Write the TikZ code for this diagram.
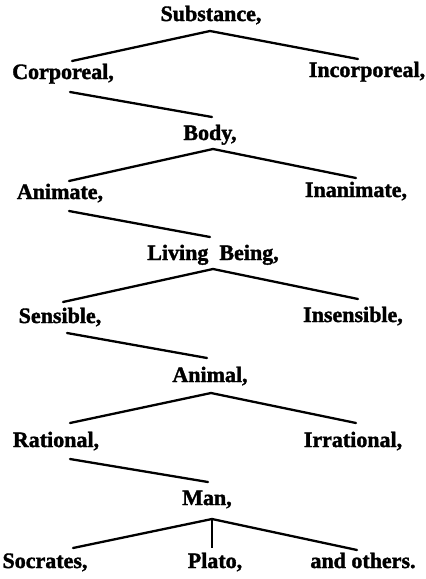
\documentclass[tikz,border=0pt]{standalone}
\usepackage{fontspec}
\setmainfont{Liberation Serif}[BoldFeatures={FakeBold=1.6}]
\begin{document}
\begin{tikzpicture}[x=1pt,y=-1pt,
  term/.style={anchor=base,inner sep=0pt,font=\fontsize{22}{24}\selectfont\bfseries},
  branch/.style={line width=2.3pt,line cap=round}]
\useasboundingbox (0,0) rectangle (426,579);
% terms
\node[term] (sub) at (211,21) {Substance,};
\node[term] (corp) at (63,79) {Corporeal,};
\node[term] (incorp) at (367,77) {Incorporeal,};
\node[term] (body) at (210,140) {Body,};
\node[term] (anim) at (60,199) {Animate,};
\node[term] (inanim) at (356,197) {Inanimate,};
\node[term] (living) at (213,260) {Living\ \ Being,};
\node[term] (sens) at (60,323) {Sensible,};
\node[term] (insens) at (353,322) {Insensible,};
\node[term] (animal) at (210,382) {Animal,};
\node[term] (rat) at (56,447) {Rational,};
\node[term] (irrat) at (353,447) {Irrational,};
\node[term] (man) at (207,505) {Man,};
\node[term] (socr) at (45,568) {Socrates,};
\node[term] (plato) at (215,568) {Plato,};
\node[term] (others) at (363,568) {and others.};
% connector end points
\coordinate (a1) at (210,31);  \coordinate (l1) at (72,61);  \coordinate (r1) at (358,59);
\coordinate (d1) at (70,92);   \coordinate (e1) at (212,117);
\coordinate (a2) at (213,149); \coordinate (l2) at (69,181); \coordinate (r2) at (356,178);
\coordinate (d2) at (69,211);  \coordinate (e2) at (210,237);
\coordinate (a3) at (213,269); \coordinate (l3) at (63,302); \coordinate (r3) at (358,299);
\coordinate (d3) at (67,333);  \coordinate (e3) at (207,358);
\coordinate (a4) at (211,393); \coordinate (l4) at (70,423); \coordinate (r4) at (356,423);
\coordinate (d4) at (70,459);  \coordinate (e4) at (208,482);
\coordinate (a5) at (212,519); \coordinate (l5) at (73,548); \coordinate (r5) at (357,550);
\coordinate (m5) at (212,548);
% connectors
\draw[branch] (l1) -- (a1) -- (r1);
\draw[branch] (d1) -- (e1);
\draw[branch] (l2) -- (a2) -- (r2);
\draw[branch] (d2) -- (e2);
\draw[branch] (l3) -- (a3) -- (r3);
\draw[branch] (d3) -- (e3);
\draw[branch] (l4) -- (a4) -- (r4);
\draw[branch] (d4) -- (e4);
\draw[branch] (l5) -- (a5) -- (r5);
\draw[line width=1.4pt] (a5) -- (m5);
\end{tikzpicture}
\end{document}
